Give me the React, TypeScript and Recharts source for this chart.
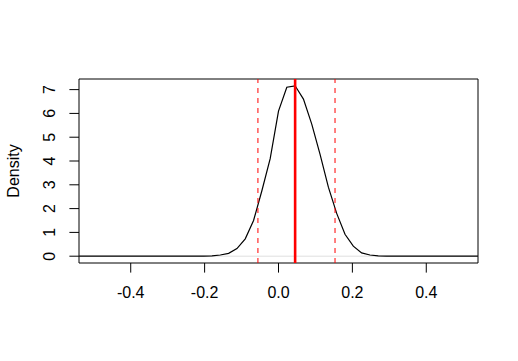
import {
  LineChart,
  Line,
  XAxis,
  YAxis,
  ReferenceLine,
  ReferenceArea,
} from 'recharts'

// ─── Data ─────────────────────────────────────────────────────────────────────

const densityX = [
  -0.54, -0.45, -0.36, -0.27, -0.225, -0.2025, -0.18, -0.1575, -0.135, -0.1125,
  -0.09, -0.0675, -0.045, -0.0225, 0, 0.0225, 0.045, 0.0675, 0.09, 0.1125,
  0.135, 0.1575, 0.18, 0.2025, 0.225, 0.2475, 0.27, 0.2925, 0.315, 0.36, 0.45, 0.54,
]
const densityY = [
  0, 0, 0, 0.001, 0.002, 0.005, 0.015, 0.05, 0.12, 0.32,
  0.73, 1.5, 2.75, 4.1, 6.1, 7.1, 7.16, 6.6, 5.55, 4.28,
  2.9, 1.8, 0.92, 0.42, 0.14, 0.05, 0.015, 0.005, 0.001, 0, 0, 0,
]

const estimate = 0.045
const lowerBound = -0.0557
const upperBound = 0.153

const xTicks = [-0.4, -0.2, 0, 0.2, 0.4]
const yTicks = [0, 1, 2, 3, 4, 5, 6, 7]

const X_DOMAIN: [number, number] = [-0.54, 0.54]
const Y_DOMAIN: [number, number] = [-0.286, 7.446]

const FONT = '"Liberation Sans", Arial, Helvetica, sans-serif'

const data = densityX.map((x, i) => ({ x, y: densityY[i] }))

// ─── Ticks ────────────────────────────────────────────────────────────────────

function XTick({ x, payload }: any) {
  return (
    <text x={x} y={298} textAnchor="middle" fontSize={16} fontFamily={FONT} fill="#000">
      {Number(payload.value).toFixed(1)}
    </text>
  )
}

function YTick({ y, payload }: any) {
  return (
    <text
      x={55}
      y={y}
      transform={`rotate(-90, 55, ${y})`}
      textAnchor="middle"
      fontSize={16}
      fontFamily={FONT}
      fill="#000"
    >
      {String(payload.value)}
    </text>
  )
}

// ─── App ──────────────────────────────────────────────────────────────────────

export default function App() {
  return (
    <div style={{ position: 'absolute', left: 0, top: 0, width: 518, height: 361, background: '#fff' }}>
      <LineChart
        width={518}
        height={361}
        data={data}
        margin={{ top: 79, right: 40, bottom: 0, left: 0 }}
      >
        <XAxis
          dataKey="x"
          type="number"
          domain={X_DOMAIN}
          ticks={xTicks}
          allowDataOverflow
          height={98}
          axisLine={false}
          tickLine={{ stroke: '#000', strokeWidth: 1 }}
          tickSize={9.6}
          tick={<XTick />}
          interval={0}
        />
        <YAxis
          type="number"
          domain={Y_DOMAIN}
          ticks={yTicks}
          allowDataOverflow
          width={79}
          axisLine={false}
          tickLine={{ stroke: '#000', strokeWidth: 1 }}
          tickSize={9.6}
          tick={<YTick />}
          interval={0}
          label={{
            value: 'Density',
            angle: -90,
            position: 'insideLeft',
            content: () => (
              <text
                x={18.5}
                y={171}
                transform="rotate(-90, 18.5, 171)"
                textAnchor="middle"
                fontSize={16}
                fontFamily={FONT}
                fill="#000"
              >
                Density
              </text>
            ),
          }}
        />
        <ReferenceLine y={0} stroke="#bebebe" strokeWidth={0.5} />
        <Line
          dataKey="y"
          type="linear"
          stroke="#000"
          strokeWidth={1.2}
          dot={false}
          activeDot={false}
          isAnimationActive={false}
        />
        <ReferenceLine x={lowerBound} stroke="#ff0000" strokeWidth={1} strokeDasharray="5 5" />
        <ReferenceLine x={upperBound} stroke="#ff0000" strokeWidth={1} strokeDasharray="5 5" />
        <ReferenceLine x={estimate} stroke="#ff0000" strokeWidth={2.6} />
        <ReferenceArea
          x1={X_DOMAIN[0]}
          x2={X_DOMAIN[1]}
          y1={Y_DOMAIN[0]}
          y2={Y_DOMAIN[1]}
          fill="none"
          stroke="#000"
          strokeWidth={1}
        />
      </LineChart>
    </div>
  )
}
